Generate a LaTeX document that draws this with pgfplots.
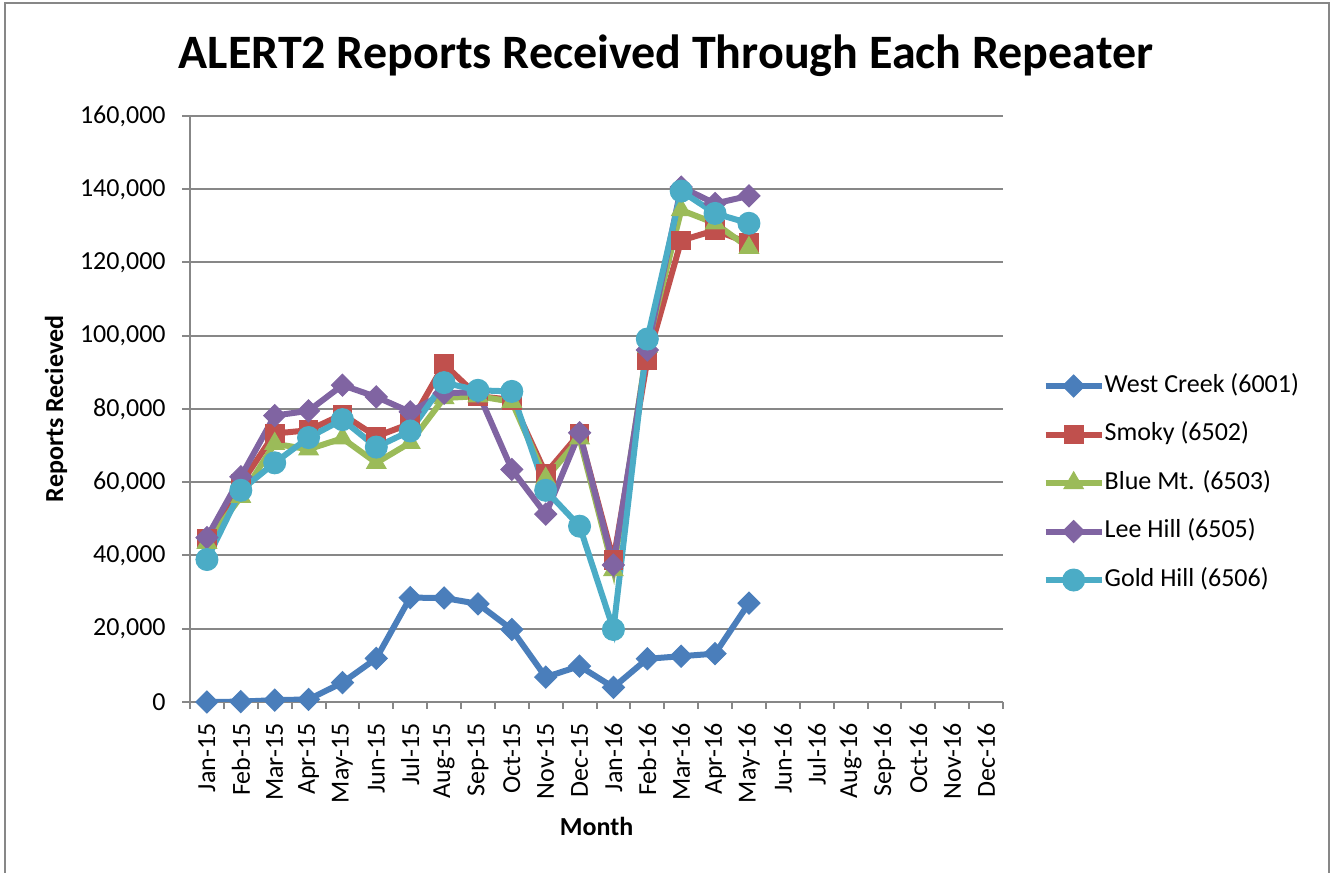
\documentclass[border=0pt]{standalone}
\usepackage{pgfplots}
\pgfplotsset{compat=1.18}
\usepackage{fontspec}
\setmainfont{Carlito}
\definecolor{cwc}{HTML}{4A7EBB}
\definecolor{csm}{HTML}{C0504D}
\definecolor{cbm}{HTML}{9BBB59}
\definecolor{clh}{HTML}{8064A2}
\definecolor{cgh}{HTML}{4BACC6}
\definecolor{cgrid}{HTML}{878787}
\newcommand{\fs}{\fontsize{13bp}{15bp}\selectfont}
\begin{document}
\begin{tikzpicture}
\useasboundingbox (0,0) rectangle (665bp,436.5bp);
\draw[cgrid, line width=1bp] (2.25bp,-2bp) -- (2.25bp,434.75bp) -- (664.5bp,434.75bp) -- (664.5bp,-2bp);
\begin{axis}[
  at={(95bp,85.5bp)}, anchor=south west,
  scale only axis, width=406.5bp, height=293bp,
  xmin=-0.5, xmax=23.5, ymin=0, ymax=160000,
  axis x line*=bottom, axis y line*=left,
  axis line style={draw=cgrid, line width=1bp, -},
  ytick={0,20000,...,160000},
  ymajorgrids, grid style={draw=cgrid, line width=1bp},
  scaled y ticks=false,
  xtick={0,...,23},
  xticklabels={Jan-15,Feb-15,Mar-15,Apr-15,May-15,Jun-15,Jul-15,Aug-15,Sep-15,Oct-15,Nov-15,Dec-15,Jan-16,Feb-16,Mar-16,Apr-16,May-16,Jun-16,Jul-16,Aug-16,Sep-16,Oct-16,Nov-16,Dec-16},
  minor xtick={-0.5,0.5,...,23.5},
  every major x tick/.append style={draw=none},
  tick align=outside,
  major tick length=4bp, minor tick length=3.5bp,
  tick style={draw=cgrid, line width=1bp},
  /pgf/number format/assume math mode=true,
  tick label style={font=\fs, text=black},
  yticklabel style={/pgf/number format/fixed, /pgf/number format/1000 sep={,}, anchor=east, inner sep=0pt},
  xticklabel style={rotate=90, anchor=east, inner sep=0pt},
  yticklabel shift=8bp,
  xticklabel shift=6.5bp,
  legend style={at={(1.0488,0.5614)}, anchor=north west, draw=none, fill=none,
    inner sep=0pt, outer sep=0pt, row sep=11.25bp, column sep=0bp, font=\fs,
    nodes={inner sep=0pt, text height=9.5bp, text depth=3.5bp}},
  legend cell align=left,
  legend image code/.code={\draw[mark repeat=2,mark phase=2] plot coordinates {(0bp,0bp)(14bp,0bp)(28bp,0bp)};},
  every axis plot/.append style={line width=3bp},
]
\addplot[color=cwc, mark=square*, mark size=3.9bp, mark options={solid, line width=0.5bp, rotate=45}] coordinates {
(0,0)(1,100)(2,500)(3,700)(4,5300)(5,11900)(6,28500)(7,28400)(8,26800)(9,19800)(10,6800)(11,9800)(12,4000)(13,11800)(14,12500)(15,13200)(16,27000)};
\addlegendentry{West Creek (6001)}
\addplot[color=csm, mark=square*, mark size=4.7bp, mark options={solid, line width=0.5bp}] coordinates {
(0,44500)(1,59500)(2,73300)(3,74200)(4,78500)(5,72500)(6,76000)(7,92200)(8,83500)(9,82500)(10,62400)(11,73300)(12,38700)(13,93400)(14,126000)(15,128800)(16,125300)};
\addlegendentry{Smoky (6502)}
\addplot[color=cbm, mark=triangle*, mark size=5.6bp, mark options={solid, line width=0.5bp}] coordinates {
(0,43500)(1,56000)(2,70500)(3,69000)(4,72000)(5,65300)(6,70800)(7,83000)(8,83500)(9,82000)(10,61000)(11,72000)(12,36000)(13,97000)(14,134300)(15,130700)(16,124000)};
\addlegendentry{Blue Mt. (6503)}
\addplot[color=clh, mark=square*, mark size=3.9bp, mark options={solid, line width=0.5bp, rotate=45}] coordinates {
(0,44900)(1,61500)(2,78200)(3,79500)(4,86500)(5,83300)(6,79200)(7,84300)(8,84600)(9,63500)(10,51300)(11,73500)(12,37400)(13,96100)(14,140600)(15,136100)(16,138200)};
\addlegendentry{Lee Hill (6505)}
\addplot[color=cgh, mark=*, mark size=5.5bp, mark options={solid, line width=0.5bp}] coordinates {
(0,38900)(1,57800)(2,65300)(3,72200)(4,77100)(5,69600)(6,74000)(7,87200)(8,85100)(9,84800)(10,57800)(11,48000)(12,19800)(13,99100)(14,139500)(15,133400)(16,130700)};
\addlegendentry{Gold Hill (6506)}
\end{axis}
\node[anchor=base, font=\bfseries\fontsize{24bp}{28bp}\selectfont] at (333bp,402.25bp) {ALERT2 Reports Received Through Each Repeater};
\node[anchor=base, font=\bfseries\fs] at (298.25bp,19bp) {Month};
\node[rotate=90, anchor=base, font=\bfseries\fs] at (31.5bp,232bp) {Reports Recieved};
\end{tikzpicture}
\end{document}
